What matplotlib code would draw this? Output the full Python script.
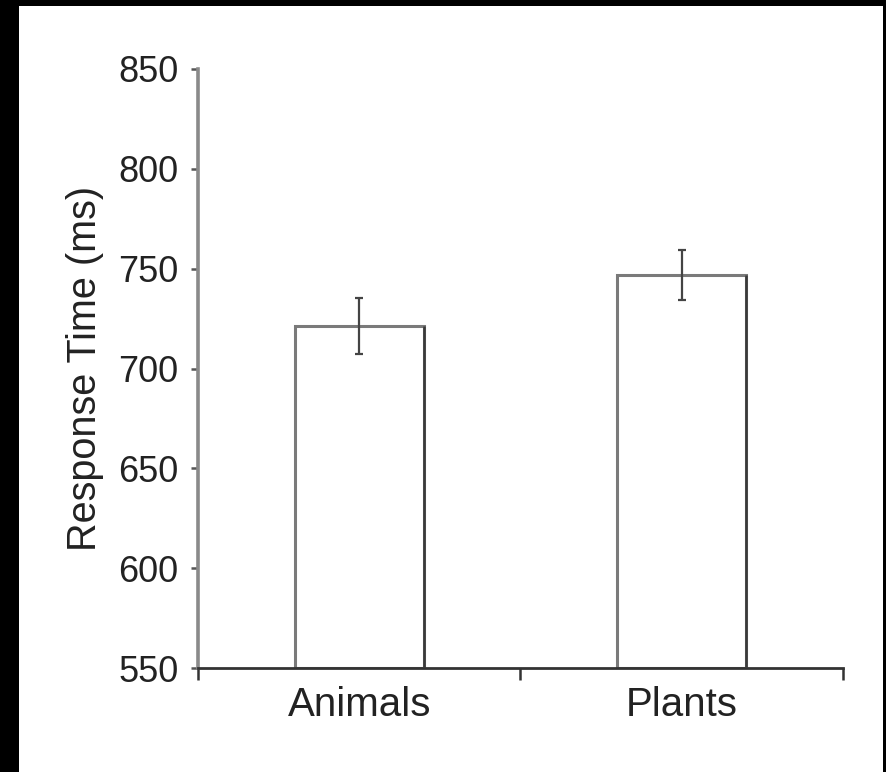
import matplotlib.pyplot as plt
import matplotlib.patches as mpatches

categories = ["Animals", "Plants"]
mean_rt = [721.5, 747.0]
sem_rt = [14.0, 12.5]
y_ticks = [550, 600, 650, 700, 750, 800, 850]

plt.rcParams['font.family'] = ['Liberation Sans', 'DejaVu Sans']

fig = plt.figure(figsize=(8.87, 7.72), dpi=100, facecolor='black')
# white sheet inside the black frame (open at the bottom)
fig.patches.append(mpatches.Rectangle((19 / 887, 0), (883 - 19) / 887, (772 - 6) / 772,
                                      transform=fig.transFigure, facecolor='white',
                                      edgecolor='none', zorder=-10))

ax = fig.add_axes([198 / 887, 104 / 772, 645 / 887, 599 / 772])
ax.set_facecolor('none')

x = list(range(len(categories)))
bars = ax.bar(x, [m - 550 for m in mean_rt], bottom=550, width=0.40,
              facecolor='white', edgecolor='#7a7a7a', linewidth=2.2, zorder=2)
# darker right-hand edges on the bars
for b in bars:
    xr = b.get_x() + b.get_width()
    ax.plot([xr, xr], [550, b.get_y() + b.get_height()], color='#3a3a3a',
            linewidth=1.8, zorder=3, solid_capstyle='butt')

ax.errorbar(x, mean_rt, yerr=sem_rt, fmt='none', ecolor='#444444',
            elinewidth=1.6, capsize=3, capthick=1.6, zorder=4)

ax.set_xlim(-0.5, 1.5)
ax.set_ylim(550, 850)
ax.set_yticks(y_ticks)
ax.set_xticks([-0.5, 0.5, 1.5], minor=False)
ax.set_xticklabels(['', '', ''])
ax.set_xticks(x, minor=True)
ax.set_xticklabels(categories, minor=True)

ax.spines['top'].set_visible(False)
ax.spines['right'].set_visible(False)
ax.spines['left'].set_color('#8a8a8a')
ax.spines['left'].set_linewidth(2.6)
ax.spines['bottom'].set_color('#333333')
ax.spines['bottom'].set_linewidth(2.0)

ax.tick_params(axis='y', direction='out', length=5, width=1.8, color='#555555',
               labelsize=26, pad=9, labelcolor='#222222')
ax.tick_params(axis='x', which='major', direction='out', length=8.5, width=1.8,
               color='#333333')
ax.tick_params(axis='x', which='minor', length=0, labelsize=29, pad=13,
               labelcolor='#222222')

ax.set_ylabel('Response Time (ms)', fontsize=28.5, color='#222222', labelpad=10)

fig.savefig('out.png', dpi=100, facecolor=fig.get_facecolor())
